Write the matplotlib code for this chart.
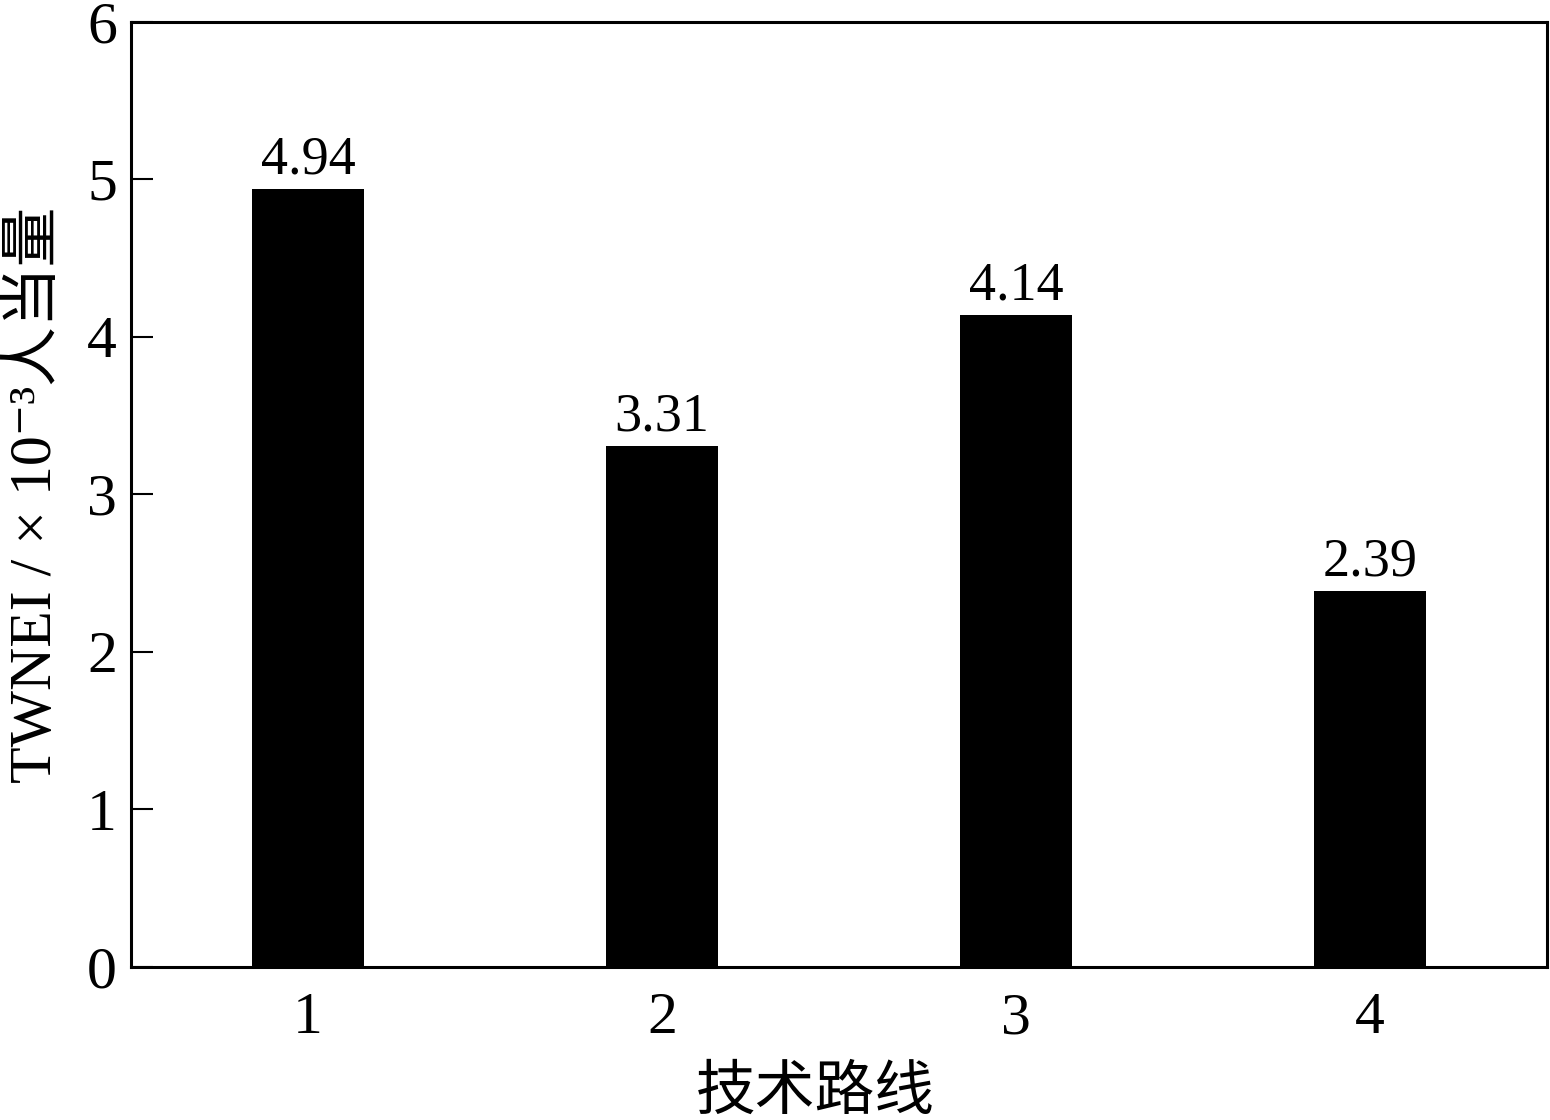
import matplotlib
matplotlib.use("Agg")
import matplotlib.pyplot as plt

routes = ["1", "2", "3", "4"]
values = [4.94, 3.31, 4.14, 2.39]
value_labels = ["4.94", "3.31", "4.14", "2.39"]
yticks = [0, 1, 2, 3, 4, 5, 6]

plt.rcParams['font.family'] = ['Liberation Serif', 'Noto Sans CJK SC', 'DejaVu Serif']

fig = plt.figure(figsize=(15.5, 11.2), dpi=100)
ax = fig.add_axes([0.0845, 0.1366, 0.9135, 0.8438])

x = list(range(1, len(routes) + 1))
bars = ax.bar(x, values, width=0.315, color='black')
for xi, v, lab in zip(x, values, value_labels):
    ax.text(xi, v + 0.02, lab, ha='center', va='bottom', fontsize=39)

ax.set_xlim(0.5, 4.5)
ax.set_ylim(0, 6)
ax.set_xticks(x)
ax.set_xticklabels(routes)
ax.set_yticks(yticks)
ax.tick_params(axis='y', direction='in', length=16, width=1.5, labelsize=43, pad=10)
ax.tick_params(axis='x', length=0, labelsize=43, pad=18)
for s in ax.spines.values():
    s.set_linewidth(2.2)

ax.set_ylabel("TWNEI / × 10⁻³人当量", fontsize=43)
ax.yaxis.set_label_coords(-0.047, 0.5)
ax.set_xlabel("技术路线", fontsize=43)
ax.xaxis.set_label_coords(0.483, -0.105)

fig.savefig("out.png", dpi=100)
